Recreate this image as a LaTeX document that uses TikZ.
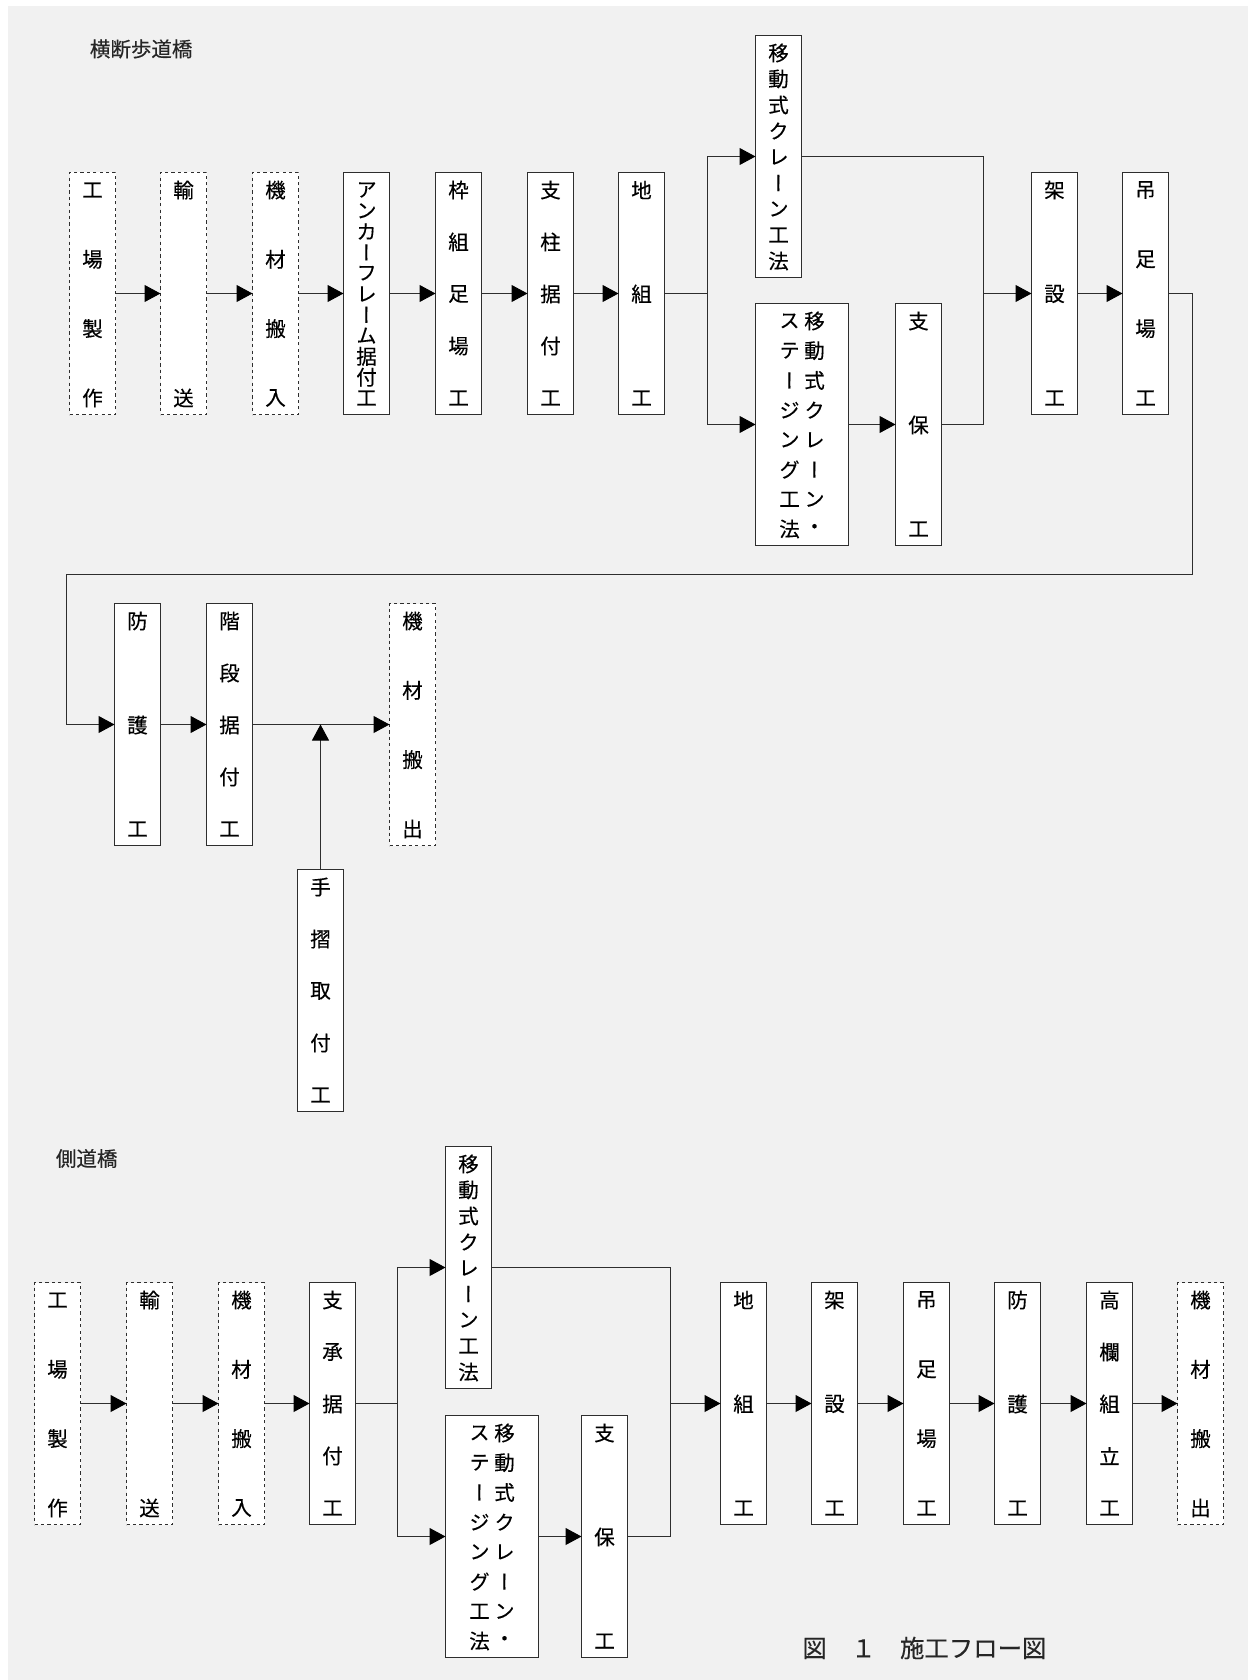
\documentclass[tikz,border=0pt]{standalone}
\usepackage{fontspec}
\usetikzlibrary{arrows.meta,calc}

\newfontfamily\jpfont[FakeBold=0.3]{Noto Sans CJK JP}
\newfontfamily\tatefont[RawFeature=+vert,FakeBold=0.3]{Noto Sans CJK JP}

\definecolor{bggray}{HTML}{F1F1F1}
\definecolor{inkgray}{HTML}{2E2E2E}

\tikzset{
  proc/.style={draw=inkgray, fill=white, line width=0.5pt, minimum width=23pt, minimum height=121pt, inner sep=0pt, outer sep=0pt},
  procwide/.style={proc, minimum width=46.5pt},
  outside/.style={proc, dash pattern=on 1.6pt off 1.6pt},
  link/.style={draw=inkgray, line width=0.5pt},
  flow/.style={link, -{Triangle[length=8pt,width=8.5pt,color=black]}},
  kanji/.style={inner sep=0pt, text=black, font=\tatefont\fontsize{10.25pt}{12pt}\selectfont},
  heading/.style={inner sep=0pt, anchor=west, text=black!85, font=\jpfont\fontsize{10.25pt}{12pt}\selectfont},
}

% vertical text spread over a box: [x offset]{prefix}{box}{count}{chars}
\newcommand{\tatelabel}[5][0]{%
  \foreach \ch [count=\k] in {#5}
    \node[kanji] (#2-\k) at ($(#3.north)+(#1,{17.5+(\k-1)*208/(#4-1)})$) {\ch};%
}

\begin{document}
\begin{tikzpicture}[x=0.5pt,y=-0.5pt]
    % Page and background
    \useasboundingbox (0,0) rectangle (1248,1680);
    \fill[white] (0,0) rectangle (1248,1680);
    \fill[bggray] (8,6) rectangle (1248,1680);

    % Section titles
    \node[heading] (title1) at (89.5,49) {横断歩道橋};
    \node[heading] (title2) at (55.5,1158.5) {側道橋};

    % Upper flow, first row
    \node[outside] (r1a) at (92.5,293.5) {};
    \node[outside] (r1b) at (183.5,293.5) {};
    \node[outside] (r1c) at (275.5,293.5) {};
    \node[proc] (r1d) at (366.5,293.5) {};
    \node[proc] (r1e) at (458.5,293.5) {};
    \node[proc] (r1f) at (550.5,293.5) {};
    \node[proc] (r1g) at (641.5,293.5) {};
    \node[proc] (r1crane) at (778.5,156.5) {};
    \node[procwide] (r1stage) at (802,424.5) {};
    \node[proc] (r1shiho) at (918.5,424.5) {};
    \node[proc] (r1h) at (1054.5,293.5) {};
    \node[proc] (r1i) at (1145.5,293.5) {};

    \tatelabel{r1at}{r1a}{4}{工,場,製,作}
    \tatelabel{r1bt}{r1b}{2}{輸,送}
    \tatelabel{r1ct}{r1c}{4}{機,材,搬,入}
    \tatelabel{r1dt}{r1d}{11}{ア,ン,カ,ー,フ,レ,ー,ム,据,付,工}
    \tatelabel{r1et}{r1e}{5}{枠,組,足,場,工}
    \tatelabel{r1ft}{r1f}{5}{支,柱,据,付,工}
    \tatelabel{r1gt}{r1g}{3}{地,組,工}
    \tatelabel{r1cranet}{r1crane}{9}{移,動,式,ク,レ,ー,ン,工,法}
    \tatelabel[12.5]{r1stager}{r1stage}{8}{移,動,式,ク,レ,ー,ン,・}
    \tatelabel[-12.5]{r1stagel}{r1stage}{8}{ス,テ,ー,ジ,ン,グ,工,法}
    \tatelabel{r1shihot}{r1shiho}{3}{支,保,工}
    \tatelabel{r1ht}{r1h}{3}{架,設,工}
    \tatelabel{r1it}{r1i}{4}{吊,足,場,工}

    % Upper flow, second row
    \node[proc] (r2a) at (137.5,724.5) {};
    \node[proc] (r2b) at (229.5,724.5) {};
    \node[outside] (r2c) at (412.5,724.5) {};
    \node[proc] (r2hand) at (320.5,990.5) {};

    \tatelabel{r2at}{r2a}{3}{防,護,工}
    \tatelabel{r2bt}{r2b}{5}{階,段,据,付,工}
    \tatelabel{r2ct}{r2c}{4}{機,材,搬,出}
    \tatelabel{r2handt}{r2hand}{5}{手,摺,取,付,工}

    % Lower flow
    \node[outside] (r3a) at (57.5,1403.5) {};
    \node[outside] (r3b) at (149.5,1403.5) {};
    \node[outside] (r3c) at (241.5,1403.5) {};
    \node[proc] (r3d) at (332.5,1403.5) {};
    \node[proc] (r3crane) at (468.5,1267.5) {};
    \node[procwide] (r3stage) at (492,1536.5) {};
    \node[proc] (r3shiho) at (604.5,1536.5) {};
    \node[proc] (r3h) at (743.5,1403.5) {};
    \node[proc] (r3i) at (834.5,1403.5) {};
    \node[proc] (r3j) at (926.5,1403.5) {};
    \node[proc] (r3k) at (1017.5,1403.5) {};
    \node[proc] (r3l) at (1109.5,1403.5) {};
    \node[outside] (r3m) at (1200.5,1403.5) {};

    \tatelabel{r3at}{r3a}{4}{工,場,製,作}
    \tatelabel{r3bt}{r3b}{2}{輸,送}
    \tatelabel{r3ct}{r3c}{4}{機,材,搬,入}
    \tatelabel{r3dt}{r3d}{5}{支,承,据,付,工}
    \tatelabel{r3cranet}{r3crane}{9}{移,動,式,ク,レ,ー,ン,工,法}
    \tatelabel[12.5]{r3stager}{r3stage}{8}{移,動,式,ク,レ,ー,ン,・}
    \tatelabel[-12.5]{r3stagel}{r3stage}{8}{ス,テ,ー,ジ,ン,グ,工,法}
    \tatelabel{r3shihot}{r3shiho}{3}{支,保,工}
    \tatelabel{r3ht}{r3h}{3}{地,組,工}
    \tatelabel{r3it}{r3i}{3}{架,設,工}
    \tatelabel{r3jt}{r3j}{4}{吊,足,場,工}
    \tatelabel{r3kt}{r3k}{3}{防,護,工}
    \tatelabel{r3lt}{r3l}{5}{高,欄,組,立,工}
    \tatelabel{r3mt}{r3m}{4}{機,材,搬,出}

    % Branch and join points
    \coordinate (r1split) at (707.5,293.5);
    \coordinate (r1join) at (983.5,293.5);
    \coordinate (r1turn) at (1192.5,574.5);
    \coordinate (r1back) at (66.5,574.5);
    \coordinate (r2merge) at (320.5,724.5);
    \coordinate (r3split) at (397.5,1403.5);
    \coordinate (r3join) at (670.5,1403.5);

    % Connectors, upper flow
    \draw[flow] (r1a) -- (r1b);
    \draw[flow] (r1b) -- (r1c);
    \draw[flow] (r1c) -- (r1d);
    \draw[flow] (r1d) -- (r1e);
    \draw[flow] (r1e) -- (r1f);
    \draw[flow] (r1f) -- (r1g);
    \draw[link] (r1g) -- (r1split);
    \draw[flow] (r1split) |- (r1crane);
    \draw[flow] (r1split) |- (r1stage);
    \draw[flow] (r1stage) -- (r1shiho);
    \draw[link] (r1crane) -| (r1join);
    \draw[link] (r1shiho) -| (r1join);
    \draw[flow] (r1join) -- (r1h);
    \draw[flow] (r1h) -- (r1i);
    \draw[flow] (r1i) -| (r1turn) -- (r1back) |- (r2a);
    \draw[flow] (r2a) -- (r2b);
    \draw[flow] (r2b) -- (r2c);
    \draw[flow] (r2hand) -- (r2merge);

    % Connectors, lower flow
    \draw[flow] (r3a) -- (r3b);
    \draw[flow] (r3b) -- (r3c);
    \draw[flow] (r3c) -- (r3d);
    \draw[link] (r3d) -- (r3split);
    \draw[flow] (r3split) |- (r3crane);
    \draw[flow] (r3split) |- (r3stage);
    \draw[flow] (r3stage) -- (r3shiho);
    \draw[link] (r3crane) -| (r3join);
    \draw[link] (r3shiho) -| (r3join);
    \draw[flow] (r3join) -- (r3h);
    \draw[flow] (r3h) -- (r3i);
    \draw[flow] (r3i) -- (r3j);
    \draw[flow] (r3j) -- (r3k);
    \draw[flow] (r3k) -- (r3l);
    \draw[flow] (r3l) -- (r3m);

    % Figure caption
    \node[heading, font=\jpfont\fontsize{12.2pt}{14pt}\selectfont] (caption) at (802,1648) {図　１　施工フロー図};
\end{tikzpicture}
\end{document}
